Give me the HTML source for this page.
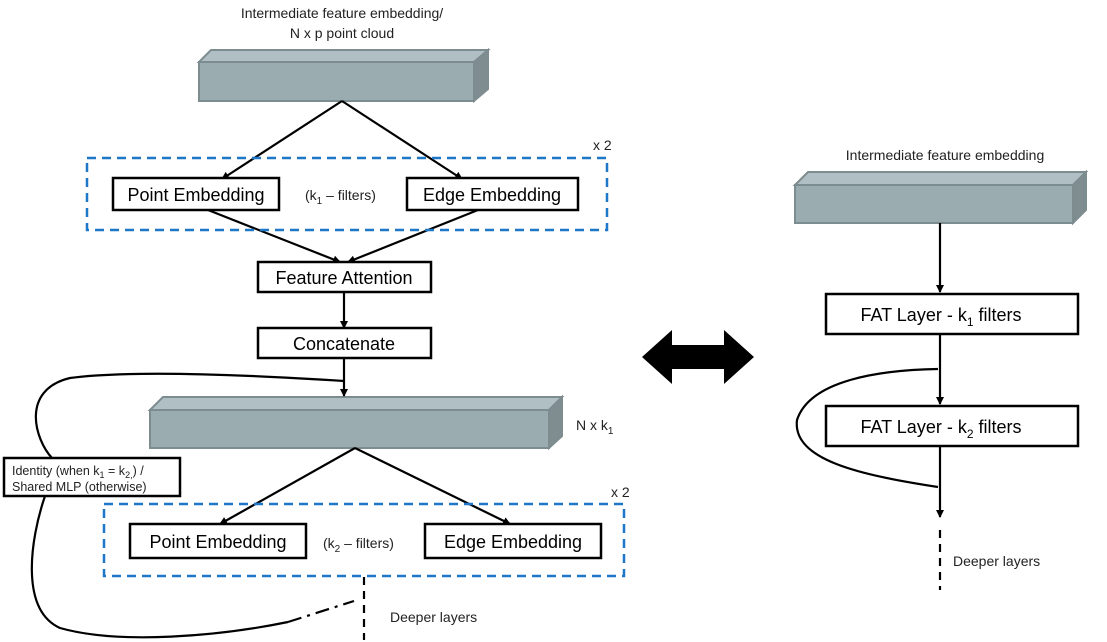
<!DOCTYPE html>
<html><head><style>
body{margin:0;background:#fff;}
svg{display:block;font-family:"Liberation Sans",sans-serif;}
</style></head><body>
<svg width="1107" height="642" viewBox="0 0 1107 642" xmlns="http://www.w3.org/2000/svg">
<defs>
<marker id="a" markerWidth="8" markerHeight="8" refX="7" refY="4" orient="auto" markerUnits="userSpaceOnUse"><path d="M0,0 L8,4 L0,8 z" fill="#000"/></marker>
</defs>
<g stroke="#7d8c8f" stroke-width="2">
<polygon points="199,62 211,50 488,50 474,62" fill="#b0bfc3"/>
<polygon points="474,62 488,50 488,89 474,101" fill="#7f8d90"/>
<rect x="199" y="62" width="275" height="39" fill="#9aacb0"/>
<polygon points="150,410 163,397 562,397 549,410" fill="#b0bfc3"/>
<polygon points="549,410 562,397 562,436 549,448" fill="#7f8d90"/>
<rect x="150" y="410" width="399" height="38" fill="#9aacb0"/>
<polygon points="795,185 808,172 1086,172 1073,185" fill="#b0bfc3"/>
<polygon points="1073,185 1086,172 1086,210 1073,223" fill="#7f8d90"/>
<rect x="795" y="185" width="278" height="38" fill="#9aacb0"/>
</g>
<g font-size="14" fill="#222" text-anchor="middle">
<text x="342" y="18">Intermediate feature embedding/</text>
<text x="342" y="38">N x p point cloud</text>
<text x="945" y="160">Intermediate feature embedding</text>
</g>
<g stroke="#000" stroke-width="2.2" fill="none">
<line x1="342" y1="101" x2="222" y2="179" marker-end="url(#a)"/>
<line x1="342" y1="101" x2="462" y2="179" marker-end="url(#a)"/>
<line x1="208" y1="210" x2="340" y2="262" marker-end="url(#a)"/>
<line x1="478" y1="210" x2="348" y2="262" marker-end="url(#a)"/>
<line x1="344" y1="292" x2="344" y2="328" marker-end="url(#a)"/>
<line x1="344" y1="358" x2="344" y2="396" marker-end="url(#a)"/>
<line x1="355" y1="448" x2="220" y2="524" marker-end="url(#a)"/>
<line x1="355" y1="448" x2="510" y2="524" marker-end="url(#a)"/>
<path d="M344,381 C250,375 130,370 70,378 C20,390 35,440 52,458"/>
<path d="M45,496 C30,540 20,610 60,628 C120,645 220,636 288,622"/>
<path d="M288,622 L354,601" stroke-dasharray="14,6,3,6"/>
<line x1="364" y1="577" x2="364" y2="640" stroke-dasharray="8,6"/>
<line x1="940" y1="223" x2="940" y2="292" marker-end="url(#a)"/>
<line x1="940" y1="335" x2="940" y2="404" marker-end="url(#a)"/>
<path d="M938,369 C880,370 810,380 797,420 C792,460 860,475 938,487"/>
<line x1="940" y1="447" x2="940" y2="517" marker-end="url(#a)"/>
<line x1="940" y1="530" x2="940" y2="590" stroke-dasharray="8,6"/>
</g>
<g stroke="#1f77c7" stroke-width="2.5" fill="none" stroke-dasharray="9,6">
<rect x="87" y="158" width="520" height="72"/>
<rect x="104" y="504" width="520" height="72"/>
</g>
<g stroke="#000" stroke-width="2.5" fill="#fff">
<rect x="113" y="178" width="166" height="32"/>
<rect x="407" y="178" width="171" height="32"/>
<rect x="258" y="262" width="173" height="30"/>
<rect x="258" y="328" width="173" height="30"/>
<rect x="130" y="524" width="176" height="34"/>
<rect x="425" y="524" width="176" height="34"/>
<rect x="4" y="458" width="176" height="38"/>
<rect x="826" y="294" width="252" height="40"/>
<rect x="826" y="406" width="252" height="40"/>
</g>
<g font-size="18" fill="#000" text-anchor="middle">
<text x="196" y="201">Point Embedding</text>
<text x="492" y="201">Edge Embedding</text>
<text x="344" y="284">Feature Attention</text>
<text x="344" y="350">Concatenate</text>
<text x="218" y="548">Point Embedding</text>
<text x="513" y="548">Edge Embedding</text>
<text x="941" y="321">FAT Layer - k<tspan font-size="12" dy="5">1</tspan><tspan dy="-5"> filters</tspan></text>
<text x="941" y="433">FAT Layer - k<tspan font-size="12" dy="5">2</tspan><tspan dy="-5"> filters</tspan></text>
</g>
<g font-size="14" fill="#222">
<text x="305" y="200">(k<tspan font-size="10" dy="4">1</tspan><tspan dy="-4"> – filters)</tspan></text>
<text x="323" y="548">(k<tspan font-size="10" dy="4">2</tspan><tspan dy="-4"> – filters)</tspan></text>
<text x="593" y="150">x 2</text>
<text x="611" y="497">x 2</text>
<text x="576" y="430">N x k<tspan font-size="10" dy="4">1</tspan></text>
<text x="390" y="622">Deeper layers</text>
<text x="953" y="566">Deeper layers</text>
<text x="12" y="475" font-size="12.5">Identity (when k<tspan font-size="9" dy="3">1</tspan><tspan dy="-3"> = k</tspan><tspan font-size="9" dy="3">2,</tspan><tspan dy="-3">) /</tspan></text>
<text x="12" y="491" font-size="12.5">Shared MLP (otherwise)</text>
</g>
<polygon points="642,357 672,330 672,345 724,345 724,330 754,357 724,384 724,369 672,369 672,384" fill="#000"/>
</svg>
</body></html>
